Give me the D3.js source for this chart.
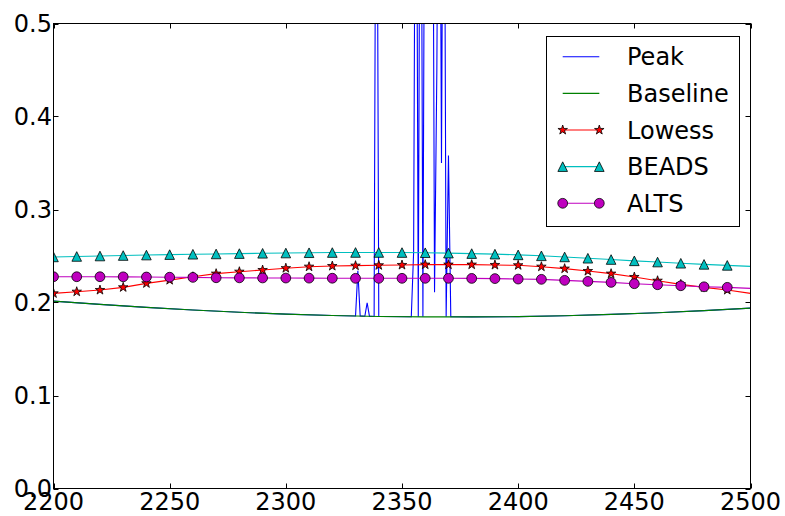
<!DOCTYPE html>
<html>
<head>
<meta charset="utf-8">
<script src="https://cdn.jsdelivr.net/npm/d3@7"></script>
<style>
  body { margin: 0; background: #fff; }
  svg { display: block; font-family: "DejaVu Sans", sans-serif; }
</style>
</head>
<body>
<svg id="chart" width="785" height="516"></svg>
<script>
// ---------- data ----------
const xTicks = [2200, 2250, 2300, 2350, 2400, 2450, 2500];
const yTicks = [0.0, 0.1, 0.2, 0.3, 0.4, 0.5];
const yTickLabels = ["0.0", "0.1", "0.2", "0.3", "0.4", "0.5"];

// Baseline (green)
const baselineX = [2200, 2220, 2240, 2260, 2280, 2300, 2320, 2340, 2360, 2380, 2400, 2420, 2440, 2460, 2480, 2500];
const baselineY = [0.2015, 0.1980, 0.1948, 0.1920, 0.1895, 0.1875, 0.1860, 0.1850, 0.1845, 0.1845, 0.1848, 0.1858, 0.1872, 0.1890, 0.1913, 0.1940];

// Peak (blue)
const peakX = [2200, 2220, 2240, 2260, 2280, 2300, 2320, 2330, 2331, 2332, 2333, 2334, 2335, 2336, 2337, 2338, 2339, 2340, 2341,
  2353, 2354, 2355, 2356, 2357, 2358, 2359, 2360, 2361, 2362, 2363, 2364, 2365, 2366, 2367, 2368, 2369, 2370, 2371,
  2380, 2400, 2420, 2440, 2460, 2480, 2500];
const peakY = [0.2015, 0.1980, 0.1948, 0.1920, 0.1895, 0.1875, 0.1860, 0.1855, 0.234, 0.1854, 0.1853, 0.1852, 0.1997, 0.1851, 0.1851, 0.1850, 0.90, 0.1850, 0.1850,
  0.1846, 0.1846, 0.254, 0.90, 0.1846, 0.90, 0.1846, 0.90, 0.60, 0.80, 0.90, 0.211, 0.45, 0.90, 0.35, 0.90, 0.1846, 0.358, 0.1846,
  0.1845, 0.1848, 0.1858, 0.1872, 0.1890, 0.1913, 0.1940];

// Smoothed estimates, sampled every 10 (markers on all but the last point)
const smoothX = [2200, 2210, 2220, 2230, 2240, 2250, 2260, 2270, 2280, 2290, 2300, 2310, 2320, 2330, 2340, 2350,
  2360, 2370, 2380, 2390, 2400, 2410, 2420, 2430, 2440, 2450, 2460, 2470, 2480, 2490, 2500];
const lowessY = [0.2098, 0.2116, 0.2134, 0.2163, 0.2206, 0.2241, 0.2277, 0.2310, 0.2331, 0.2349, 0.2369, 0.2385, 0.2392, 0.2396, 0.2400, 0.2403,
  0.2407, 0.2407, 0.2407, 0.2403, 0.2400, 0.2385, 0.2364, 0.2338, 0.2310, 0.2274, 0.2234, 0.2195, 0.2163, 0.2134, 0.2098];
const beadsY = [0.2490, 0.2495, 0.2500, 0.2505, 0.2510, 0.2515, 0.2519, 0.2522, 0.2526, 0.2529, 0.2532, 0.2535, 0.2537, 0.2538, 0.2538, 0.2537,
  0.2535, 0.2531, 0.2526, 0.2520, 0.2512, 0.2502, 0.2490, 0.2476, 0.2462, 0.2448, 0.2435, 0.2422, 0.2410, 0.2399, 0.2388];
const altsY = [0.2277, 0.2277, 0.2277, 0.2276, 0.2274, 0.2272, 0.2270, 0.2266, 0.2265, 0.2264, 0.2263, 0.2262, 0.2261, 0.2260, 0.2260, 0.2260,
  0.2260, 0.2260, 0.2259, 0.2257, 0.2252, 0.2249, 0.2238, 0.2227, 0.2216, 0.2202, 0.2191, 0.2180, 0.2169, 0.2163, 0.2152];

const seriesNames = ["Peak", "Baseline", "Lowess", "BEADS", "ALTS"];

// ---------- drawing ----------
const svg = d3.select("#chart");
const L = 53.5, R = 750.5, T = 23.5, B = 488.5;
const x = d3.scaleLinear().domain([2200, 2500]).range([L, R]);
const y = d3.scaleLinear().domain([0, 0.5]).range([B, T]);

svg.append("defs").append("clipPath").attr("id", "clip")
  .append("rect").attr("x", L).attr("y", T).attr("width", R - L).attr("height", B - T);

const plot = svg.append("g").attr("clip-path", "url(#clip)");
const line = d3.line().x(d => x(d[0])).y(d => y(d[1]));

function zip(xs, ys) { return xs.map((v, i) => [v, ys[i]]); }

// marker path generators (radius-based, matplotlib-like)
function starPath(r) {
  const ri = r * 0.381966, pts = [];
  for (let i = 0; i < 10; i++) {
    const a = -Math.PI / 2 + i * Math.PI / 5;
    const rr = i % 2 === 0 ? r : ri;
    pts.push([rr * Math.cos(a), rr * Math.sin(a)]);
  }
  return "M" + pts.map(p => p.join(",")).join("L") + "Z";
}
function triPath(r) { return `M0,${-r}L${r},${r}L${-r},${r}Z`; }
function circPath(r) { return `M${r},0A${r},${r} 0 1,1 ${-r},0A${r},${r} 0 1,1 ${r},0Z`; }

const styles = {
  Peak: { color: "#0000ff" },
  Baseline: { color: "#008000" },
  Lowess: { color: "#ff0000", marker: starPath(5), fill: "#ff0000" },
  BEADS: { color: "#00bfbf", marker: triPath(4.8), fill: "#00bfbf" },
  ALTS: { color: "#bf00bf", marker: circPath(4.9), fill: "#bf00bf" }
};

const seriesData = {
  Peak: zip(peakX, peakY),
  Baseline: zip(baselineX, baselineY),
  Lowess: zip(smoothX, lowessY),
  BEADS: zip(smoothX, beadsY),
  ALTS: zip(smoothX, altsY)
};

seriesNames.forEach(name => {
  const st = styles[name], data = seriesData[name];
  plot.append("path").datum(data).attr("d", line)
    .attr("fill", "none").attr("stroke", st.color).attr("stroke-width", 1.1);
  if (st.marker) {
    plot.selectAll(null).data(data.slice(0, data.length - 1)).enter().append("path")
      .attr("d", st.marker)
      .attr("transform", d => `translate(${x(d[0])},${y(d[1])})`)
      .attr("fill", st.fill).attr("stroke", "#000").attr("stroke-width", 0.8);
  }
});

// frame
svg.append("rect").attr("x", L).attr("y", T).attr("width", R - L).attr("height", B - T)
  .attr("fill", "none").attr("stroke", "#000").attr("stroke-width", 1);

// ticks (inward, all four sides)
const tl = 5;
const axes = svg.append("g").attr("stroke", "#000").attr("stroke-width", 1);
xTicks.forEach(t => {
  const xx = Math.round(x(t)) + 0.5;
  axes.append("line").attr("x1", xx).attr("x2", xx).attr("y1", B).attr("y2", B - tl);
  axes.append("line").attr("x1", xx).attr("x2", xx).attr("y1", T).attr("y2", T + tl);
});
yTicks.forEach(t => {
  const yy = Math.round(y(t)) + 0.5;
  axes.append("line").attr("y1", yy).attr("y2", yy).attr("x1", L).attr("x2", L + tl);
  axes.append("line").attr("y1", yy).attr("y2", yy).attr("x1", R).attr("x2", R - tl);
});

// tick labels
svg.selectAll(".xl").data(xTicks).enter().append("text")
  .attr("x", d => x(d)).attr("y", 509.5)
  .attr("text-anchor", "middle").attr("font-size", 24).attr("fill", "#000")
  .text(d => String(d));
svg.selectAll(".yl").data(yTicks).enter().append("text")
  .attr("x", 52).attr("y", d => y(d) + 8.7)
  .attr("text-anchor", "end").attr("font-size", 24).attr("fill", "#000")
  .text((d, i) => yTickLabels[i]);

// legend
const lg = svg.append("g");
lg.append("rect").attr("x", 546.5).attr("y", 36.5).attr("width", 193).attr("height", 190)
  .attr("fill", "#fff").attr("stroke", "#000").attr("stroke-width", 1);
const rowY0 = 56.7, rowStep = 36.65, lx1 = 562.7, lx2 = 599.3;
seriesNames.forEach((name, i) => {
  const st = styles[name], yy = rowY0 + i * rowStep;
  lg.append("line").attr("x1", lx1).attr("x2", lx2).attr("y1", yy).attr("y2", yy)
    .attr("stroke", st.color).attr("stroke-width", 1.1);
  if (st.marker) {
    [lx1, lx2].forEach(px => {
      lg.append("path").attr("d", st.marker).attr("transform", `translate(${px},${yy})`)
        .attr("fill", st.fill).attr("stroke", "#000").attr("stroke-width", 0.8);
    });
  }
  lg.append("text").attr("x", 627).attr("y", yy + 8.7).attr("font-size", 24).attr("fill", "#000").text(name);
});
</script>
</body>
</html>
